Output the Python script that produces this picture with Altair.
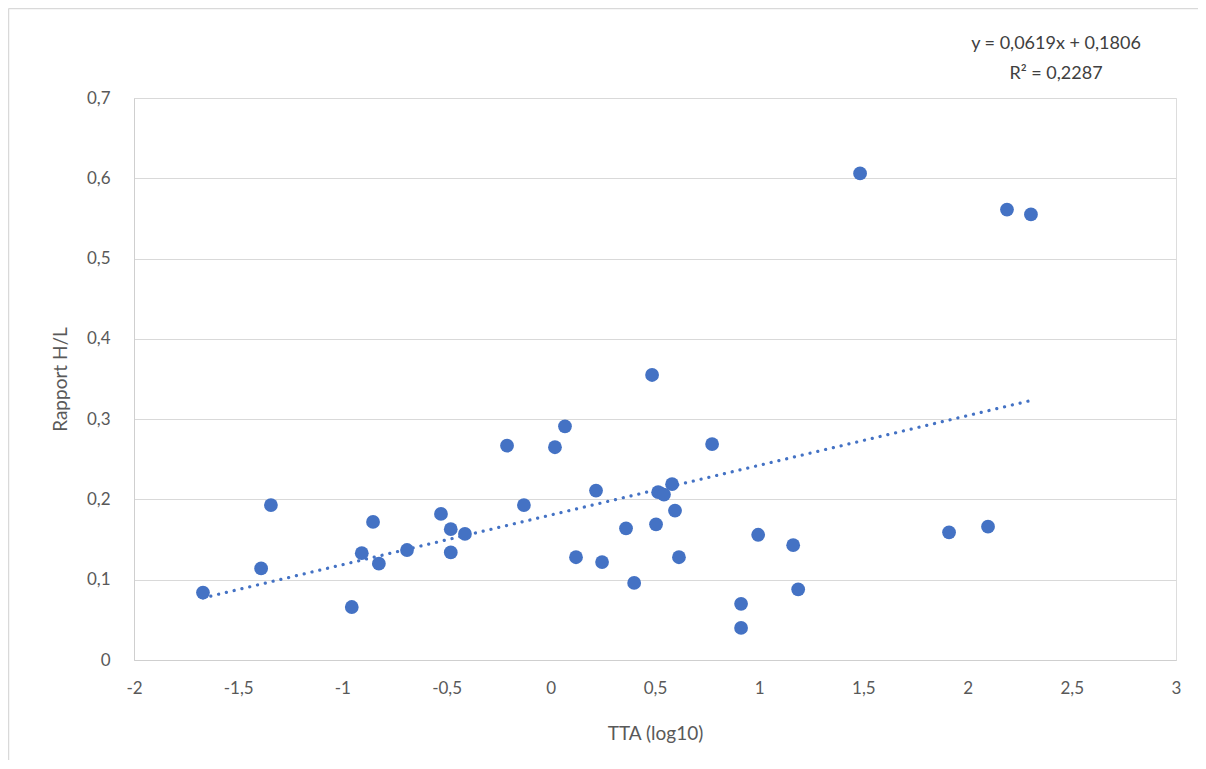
import altair as alt
import pandas as pd

# Data
tta_log10 = [-1.669, -1.39, -1.343, -0.955, -0.907, -0.853, -0.825, -0.69, -0.527, -0.48,
             -0.48, -0.412, -0.21, -0.129, 0.02, 0.068, 0.121, 0.217, 0.246, 0.361,
             0.40, 0.486, 0.505, 0.515, 0.543, 0.582, 0.596, 0.615, 0.774, 0.913,
             0.913, 0.995, 1.163, 1.187, 1.484, 1.911, 2.098, 2.189, 2.304]
rapport_hl = [0.084, 0.114, 0.193, 0.066, 0.133, 0.172, 0.120, 0.137, 0.182, 0.163,
              0.134, 0.157, 0.267, 0.193, 0.265, 0.291, 0.128, 0.211, 0.122, 0.164,
              0.096, 0.355, 0.169, 0.209, 0.206, 0.219, 0.186, 0.128, 0.269, 0.070,
              0.040, 0.156, 0.143, 0.088, 0.606, 0.159, 0.166, 0.561, 0.555]

slope = 0.0619
intercept = 0.1806
equation_text = "y = 0,0619x + 0,1806"
r2_text = "R² = 0,2287"

x_ticks = [-2, -1.5, -1, -0.5, 0, 0.5, 1, 1.5, 2, 2.5, 3]
y_ticks = [0, 0.1, 0.2, 0.3, 0.4, 0.5, 0.6, 0.7]

points = pd.DataFrame({"x": tta_log10, "y": rapport_hl})
x_ends = [min(tta_log10), max(tta_log10)]
trend = pd.DataFrame({"x": x_ends, "y": [slope * v + intercept for v in x_ends]})
labels = pd.DataFrame({"t": [equation_text + "\n" + r2_text]})
frame = pd.DataFrame({"k": [0]})

FONT = "Lato"
GREY = "#595959"
BLUE = "#4472C4"

W, H = 1042, 562
PAD_R = 22

x_scale = alt.Scale(domain=[-2, 3], nice=False, zero=False)
y_scale = alt.Scale(domain=[0, 0.7], nice=False, zero=False)

x_axis = alt.Axis(
    values=x_ticks, grid=False, ticks=False, labelFlush=False, labelOverlap=False,
    labelExpr="replace(toString(datum.value), '.', ',')",
    labelPadding=20, labelFontSize=17, labelColor=GREY, labelFont=FONT,
    domainColor="#CFCFCF", domainWidth=1,
    title="TTA (log10)", titleFontSize=19, titleFont=FONT, titleColor=GREY,
    titleFontWeight="normal", titleX=W / 2, titleY=73, titleBaseline="middle",
    titleAlign="center",
)
y_axis = alt.Axis(
    values=y_ticks, grid=True, gridColor="#D9D9D9", gridWidth=1, ticks=False,
    labelFlush=False, labelOverlap=False,
    labelExpr="datum.value == 0 ? '0' : replace(format(datum.value, '.1f'), '.', ',')",
    labelPadding=24, labelFontSize=17, labelColor=GREY, labelFont=FONT,
    domainColor="#CFCFCF", domainWidth=1,
    title="Rapport H/L", titleFontSize=19, titleFont=FONT, titleColor=GREY,
    titleFontWeight="normal", titleAngle=-90, titleX=-74, titleY=H / 2,
    titleBaseline="middle", titleAlign="center",
)

pts = alt.Chart(points).mark_circle(size=190, opacity=1, color=BLUE).encode(
    x=alt.X("x:Q", scale=x_scale, axis=x_axis),
    y=alt.Y("y:Q", scale=y_scale, axis=y_axis),
)

line = alt.Chart(trend).mark_line(
    color=BLUE, strokeWidth=3.2, strokeDash=[0.1, 7.9], strokeCap="round"
).encode(
    x=alt.X("x:Q", scale=x_scale),
    y=alt.Y("y:Q", scale=y_scale),
)

ann = alt.Chart(labels).mark_text(
    font=FONT, fontSize=18, color="#404040", align="center", baseline="middle",
    lineBreak="\n", lineHeight=30,
).encode(
    text="t:N",
    x=alt.value(922),
    y=alt.value(-54),
)

# light chart-area border (left and top edges, as in the reference)
border_left = alt.Chart(frame).mark_rule(color="#D9D9D9", strokeWidth=1.5).encode(
    x=alt.value(-125.5), y=alt.value(-89.5), y2=alt.value(H + 100)
)
border_top = alt.Chart(frame).mark_rule(color="#D9D9D9", strokeWidth=1.5).encode(
    x=alt.value(-125.5), x2=alt.value(W + PAD_R), y=alt.value(-89.5)
)

chart = alt.layer(border_left, border_top, line, pts, ann).properties(
    width=W, height=H,
    autosize=alt.AutoSizeParams(type="none"),
    padding={"left": 126, "top": 90, "right": PAD_R, "bottom": 100},
).configure_view(stroke=None).configure(background="white")

chart.save("out.html", embed_options={"renderer": "svg", "actions": False})
